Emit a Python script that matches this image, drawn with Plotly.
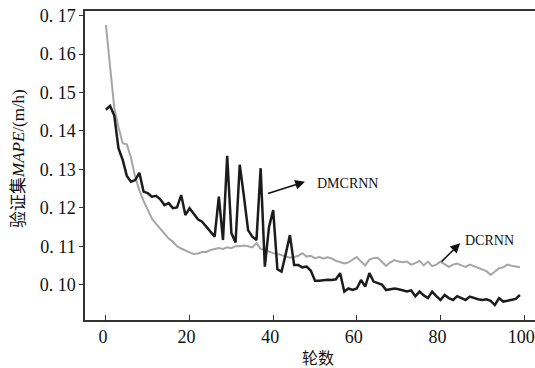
import plotly.graph_objects as go

epochs = list(range(100))

dmcrnn = [
    0.1455, 0.1465, 0.1440, 0.1355, 0.1325, 0.1283, 0.1268, 0.1272, 0.1291, 0.1242,
    0.1238, 0.1229, 0.1231, 0.1222, 0.1207, 0.1212, 0.1199, 0.1201, 0.1233, 0.1181,
    0.1199, 0.1185, 0.1170, 0.1164, 0.1150, 0.1138, 0.1125, 0.1229, 0.1116, 0.1335,
    0.1134, 0.1110, 0.1312, 0.1230, 0.1142, 0.1125, 0.1116, 0.1303, 0.1047, 0.1150,
    0.1194, 0.1040, 0.1034, 0.1080, 0.1129, 0.1051, 0.1051, 0.1045, 0.1047, 0.1036,
    0.1010, 0.1010, 0.1012, 0.1013, 0.1012, 0.1014, 0.1030, 0.0982, 0.0990, 0.0986,
    0.0990, 0.1012, 0.0995, 0.1030, 0.1008, 0.1004, 0.1000, 0.0986, 0.0988, 0.0990,
    0.0988, 0.0985, 0.0982, 0.0985, 0.0970, 0.0982, 0.0972, 0.0965, 0.0982, 0.0970,
    0.0960, 0.0973, 0.0965, 0.0960, 0.0970, 0.0965, 0.0960, 0.0969, 0.0965, 0.0962,
    0.0960, 0.0962, 0.0958, 0.0947, 0.0965, 0.0956, 0.0958, 0.0960, 0.0963, 0.0973,
]

dcrnn = [
    0.1675, 0.1560, 0.1460, 0.1410, 0.1368, 0.1365, 0.1330, 0.1280, 0.1245, 0.1218,
    0.1195, 0.1172, 0.1158, 0.1145, 0.1130, 0.1120, 0.1112, 0.1100, 0.1094, 0.1088,
    0.1084, 0.1080, 0.1081, 0.1085, 0.1085, 0.1090, 0.1092, 0.1095, 0.1093, 0.1097,
    0.1095, 0.1100, 0.1100, 0.1102, 0.1100, 0.1097, 0.1108, 0.1093, 0.1090, 0.1085,
    0.1082, 0.1080, 0.1077, 0.1075, 0.1070, 0.1072, 0.1075, 0.1082, 0.1073, 0.1075,
    0.1069, 0.1072, 0.1068, 0.1071, 0.1068, 0.1062, 0.1058, 0.1055, 0.1058, 0.1065,
    0.1072, 0.1060, 0.1050, 0.1065, 0.1069, 0.1070, 0.1060, 0.1049, 0.1058, 0.1064,
    0.1060, 0.1058, 0.1060, 0.1052, 0.1056, 0.1062, 0.1050, 0.1060, 0.1048, 0.1052,
    0.1060, 0.1052, 0.1046, 0.1052, 0.1055, 0.1050, 0.1046, 0.1052, 0.1048, 0.1043,
    0.1040, 0.1035, 0.1025, 0.1035, 0.1043, 0.1045, 0.1052, 0.1049, 0.1046, 0.1045,
]

x_ticks = [0, 20, 40, 60, 80, 100]
y_ticks = [0.10, 0.11, 0.12, 0.13, 0.14, 0.15, 0.16, 0.17]
y_tick_labels = ["0. 10", "0. 11", "0. 12", "0. 13", "0. 14", "0. 15", "0. 16", "0. 17"]

fig = go.Figure()
fig.add_trace(go.Scatter(x=epochs, y=dcrnn, mode="lines", name="DCRNN",
                         line=dict(color="#a6a6a6", width=2)))
fig.add_trace(go.Scatter(x=epochs, y=dmcrnn, mode="lines", name="DMCRNN",
                         line=dict(color="#1c1c1c", width=2.5)))

tick_font = dict(family="Liberation Serif", size=18, color="#111")
label_font = dict(family="Liberation Serif", size=14, color="#111")

fig.update_layout(
    width=535, height=368,
    margin=dict(l=85, r=0, t=11, b=48, autoexpand=False),
    paper_bgcolor="white", plot_bgcolor="white",
    showlegend=False,
    xaxis=dict(range=[-5.0, 102.6], tickvals=x_ticks, ticks="inside", ticklen=5,
               tickcolor="#333", showline=True, linecolor="#333", linewidth=1.5,
               mirror=True, showgrid=False, zeroline=False, automargin=False,
               ticklabeloverflow="allow", ticklabelshift=-3,
               tickfont=tick_font),
    yaxis=dict(range=[0.0908, 0.1712], tickvals=y_ticks, ticktext=y_tick_labels,
               ticks="outside", ticklen=4, tickcolor="#333", showline=True,
               linecolor="#333", linewidth=1.5, showgrid=False, zeroline=False,
               automargin=False, ticklabeloverflow="allow",
               tickfont=tick_font),
    annotations=[
        dict(xref="paper", yref="paper", x=-0.149, y=0.524, text="验证集<i>MAPE</i>/(m/h)",
             textangle=-90, showarrow=False, xanchor="center", yanchor="middle",
             font=dict(family="Liberation Serif, Noto Sans CJK SC", size=17, color="#111")),
        dict(xref="paper", yref="paper", x=0.518, y=-0.12, text="轮数", showarrow=False,
             xanchor="center", yanchor="middle",
             font=dict(family="Noto Sans CJK SC", size=16, color="#111")),
        dict(x=47.6, y=0.1268, ax=38.4, ay=0.1236, xref="x", yref="y", axref="x", ayref="y",
             text="", showarrow=True, arrowhead=2, arrowsize=1.3, arrowwidth=1.5,
             arrowcolor="#111"),
        dict(x=50.0, y=0.1262, xref="x", yref="y", text="DMCRNN", showarrow=False,
             xanchor="left", font=label_font),
        dict(x=84.7, y=0.1108, ax=79.9, ay=0.1056, xref="x", yref="y", axref="x", ayref="y",
             text="", showarrow=True, arrowhead=2, arrowsize=1.3, arrowwidth=1.5,
             arrowcolor="#111"),
        dict(x=85.4, y=0.1116, xref="x", yref="y", text="DCRNN", showarrow=False,
             xanchor="left", font=label_font),
    ],
)

fig.write_html("out.html", config={"displayModeBar": False},
               post_script="document.body.style.margin='0';document.body.style.overflow='hidden';")
